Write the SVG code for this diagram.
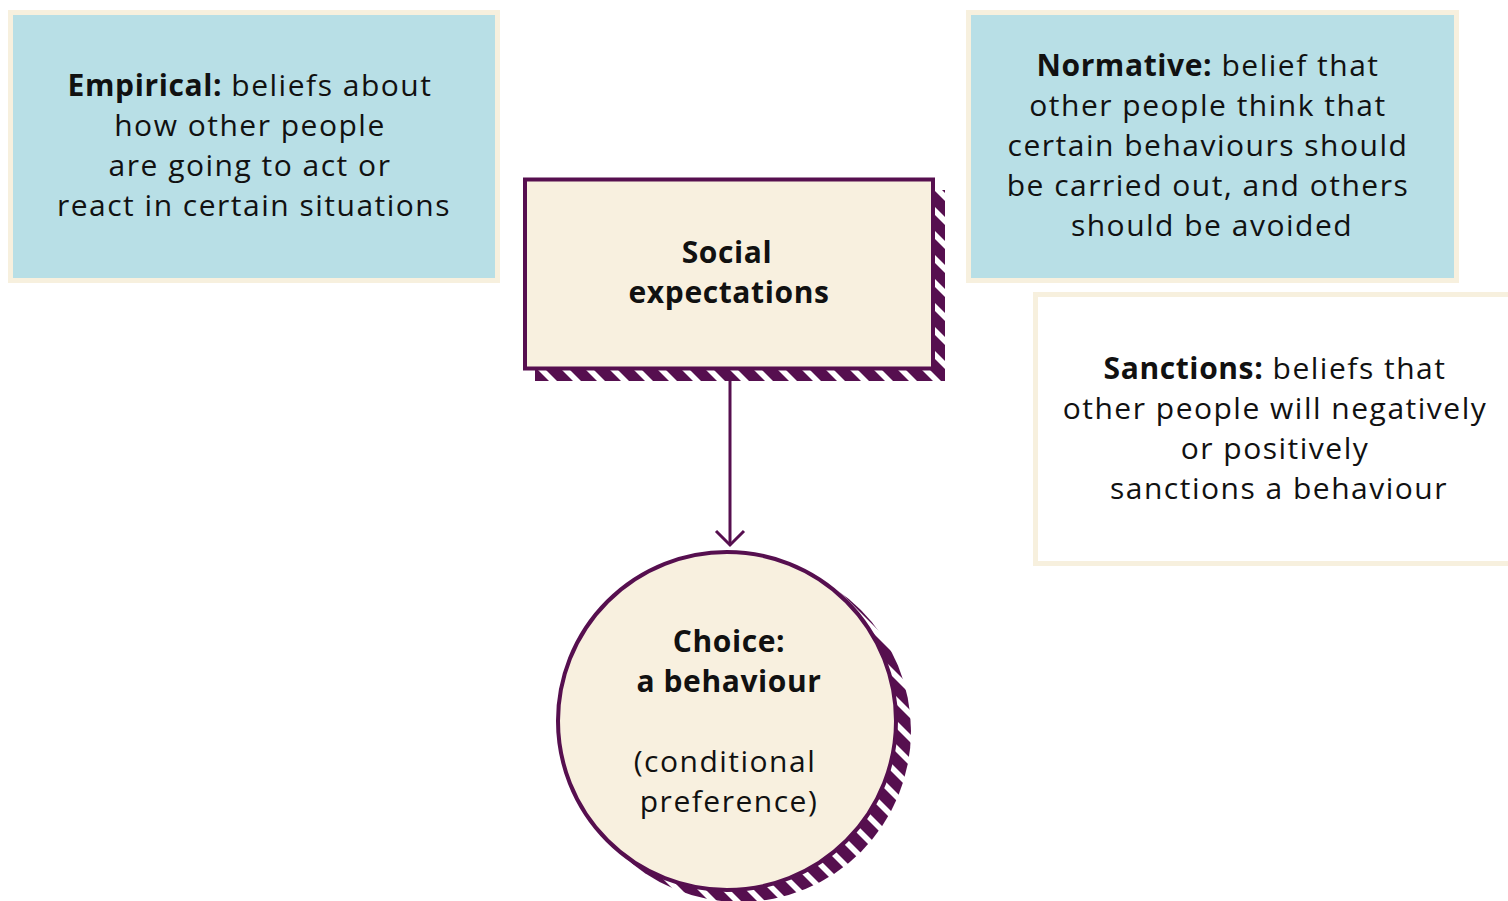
<svg xmlns="http://www.w3.org/2000/svg" width="1508" height="901" viewBox="0 0 1508 901">
<defs>
<pattern id="hatch" patternUnits="userSpaceOnUse" x="0" y="0" width="24" height="24">
<rect x="0" y="0" width="24" height="24" fill="#560f4f"/>
<polygon points="0,0 8,0 24,16 24,24" fill="#ffffff"/>
<polygon points="0,16 8,24 0,24" fill="#ffffff"/>
</pattern>
</defs>
<style>
.t{font-family:"Open Sans","Lato",sans-serif;font-size:30px;fill:#111111;text-anchor:middle;letter-spacing:1.5px}
.b{font-weight:bold;letter-spacing:0.6px}
.info{fill:#b8dfe6;stroke:#f7f0de;stroke-width:5}
.plain{fill:#ffffff;stroke:#f7f0de;stroke-width:5}
.main{fill:#f8f0df;stroke:#560f4f;stroke-width:4}
.conn{fill:none;stroke:#560f4f;stroke-width:3}
</style>
<rect width="1508" height="901" fill="#ffffff"/>
<g id="empirical">
<rect class="info" x="10.5" y="12.5" width="487" height="268"/>
<text class="t" x="250" y="96"><tspan class="b">Empirical:</tspan> beliefs about</text>
<text class="t" x="250" y="136">how other people</text>
<text class="t" x="250" y="176">are going to act or</text>
<text class="t" x="254" y="216">react in certain situations</text>
</g>
<g id="normative">
<rect class="info" x="968.5" y="12.5" width="488" height="268"/>
<text class="t" x="1208" y="76"><tspan class="b">Normative:</tspan> belief that</text>
<text class="t" x="1208" y="116">other people think that</text>
<text class="t" x="1208" y="156">certain behaviours should</text>
<text class="t" x="1208" y="196">be carried out, and others</text>
<text class="t" x="1212" y="236">should be avoided</text>
</g>
<g id="sanctions">
<rect class="plain" x="1035.5" y="294.5" width="480" height="269"/>
<text class="t" x="1275" y="379"><tspan class="b">Sanctions:</tspan> beliefs that</text>
<text class="t" x="1275" y="419">other people will negatively</text>
<text class="t" x="1275" y="459">or positively</text>
<text class="t" x="1279" y="499">sanctions a behaviour</text>
</g>
<g id="connectors">
<line class="conn" x1="730" y1="381" x2="730" y2="545"/>
<polyline class="conn" points="716,531 730,545 744,531"/>
</g>
<g id="social">
<rect x="535" y="190" width="410" height="191" fill="url(#hatch)"/>
<rect class="main" x="525" y="179.5" width="408" height="189"/>
<text class="t b" x="727" y="263">Social</text>
<text class="t b" x="729" y="303">expectations</text>
</g>
<g id="choice">
<circle cx="740" cy="731" r="171" fill="url(#hatch)"/>
<circle class="main" cx="727" cy="721" r="169"/>
<text class="t b" x="729" y="652">Choice:</text>
<text class="t b" x="729" y="692">a behaviour</text>
<text class="t" x="725" y="772">(conditional</text>
<text class="t" x="729" y="812">preference)</text>
</g>
</svg>
